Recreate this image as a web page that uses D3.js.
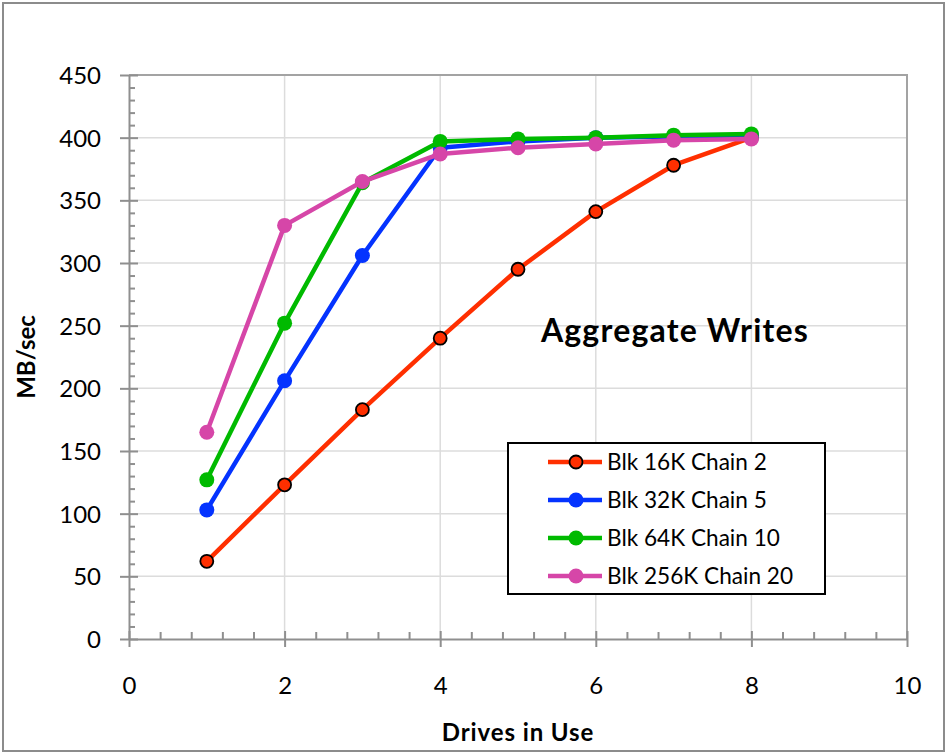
<!DOCTYPE html>
<html>
<head>
<meta charset="utf-8">
<script src="https://cdn.jsdelivr.net/npm/d3@7"></script>
<style>
  html, body { margin: 0; padding: 0; background: #fff; }
  svg { display: block; font-family: Lato, "Open Sans", sans-serif; }
</style>
</head>
<body>
<svg id="chart" width="947" height="753"></svg>
<script>
// Drive counts on the x axis
const drives = [1, 2, 3, 4, 5, 6, 7, 8];

// Aggregate write throughput (MB/sec) per configuration
const blk16kChain2 = [62, 123, 183, 240, 295, 341, 378, 400];
const blk32kChain5 = [103, 206, 306, 392, 397, 400, 401, 402];
const blk64kChain10 = [127, 252, 364, 397, 399, 400, 402, 403];
const blk256kChain20 = [165, 330, 365, 387, 392, 395, 398, 399];

const seriesNames = ["Blk 16K Chain 2", "Blk 32K Chain 5", "Blk 64K Chain 10", "Blk 256K Chain 20"];
const seriesColors = ["#ff2f00", "#0433ff", "#00ba00", "#d646a8"];

const xTicks = [0, 2, 4, 6, 8, 10];
const yTicks = [0, 50, 100, 150, 200, 250, 300, 350, 400, 450];

const series = [blk16kChain2, blk32kChain5, blk64kChain10, blk256kChain20].map((vals, i) => ({
  name: seriesNames[i],
  color: seriesColors[i],
  outlined: i === 0,
  points: drives.map((d, j) => ({ x: d, y: vals[j] }))
}));

const svg = d3.select("#chart");
const margin = { left: 129, top: 75, right: 40, bottom: 114 };
const W = 947, H = 753;
const pw = W - margin.left - margin.right;   // 778
const ph = H - margin.top - margin.bottom;   // 564

const x = d3.scaleLinear().domain([0, 10]).range([0, pw]);
const y = d3.scaleLinear().domain([0, 450]).range([ph, 0]);

const axisGray = "#8f8f8f";
const gridGray = "#dcdcdc";

// outer chart frame
svg.append("rect")
  .attr("x", 3).attr("y", 3).attr("width", 941).attr("height", 748)
  .attr("fill", "#fff").attr("stroke", "#8c8c8c").attr("stroke-width", 2);

const g = svg.append("g").attr("transform", `translate(${margin.left},${margin.top})`);

// gridlines
g.append("g").selectAll("line").data(yTicks.filter(v => v > 0 && v < 450)).join("line")
  .attr("x1", 0).attr("x2", pw)
  .attr("y1", d => y(d)).attr("y2", d => y(d))
  .attr("stroke", gridGray).attr("stroke-width", 1.5);
g.append("g").selectAll("line").data(xTicks.filter(v => v > 0 && v < 10)).join("line")
  .attr("y1", 0).attr("y2", ph)
  .attr("x1", d => x(d)).attr("x2", d => x(d))
  .attr("stroke", gridGray).attr("stroke-width", 1.5);

// plot area top and right border
g.append("path")
  .attr("d", `M0,${y(450)}H${x(10)}V${y(0)}`)
  .attr("fill", "none").attr("stroke", "#a3a3a3").attr("stroke-width", 2);

// y axis: minor ticks inside, major ticks crossing
const yMinor = d3.range(0, 451, 10).filter(v => v % 50 !== 0);
g.append("g")
  .call(d3.axisRight(y).tickValues(yMinor).tickSize(6).tickFormat(""))
  .call(s => s.select(".domain").remove())
  .call(s => s.selectAll("line").attr("stroke", axisGray).attr("stroke-width", 2));

const yAxis = g.append("g")
  .call(d3.axisLeft(y).tickValues(yTicks).tickSize(9).tickSizeOuter(0));
yAxis.select(".domain").attr("stroke", axisGray).attr("stroke-width", 2);
yAxis.selectAll(".tick line").attr("x1", 9).attr("x2", -9)
  .attr("stroke", axisGray).attr("stroke-width", 2);
yAxis.selectAll(".tick text")
  .attr("x", -28).attr("dy", "0.36em")
  .attr("font-family", "Lato, sans-serif").attr("font-size", 24).attr("fill", "#000");

// x axis: minor ticks inside, major ticks crossing
const xMinor = d3.range(0, 51).map(v => v * 0.4).filter(v => v <= 10 && Math.abs(v / 2 - Math.round(v / 2)) > 1e-6);
g.append("g").attr("transform", `translate(0,${ph})`)
  .call(d3.axisTop(x).tickValues(xMinor).tickSize(7).tickFormat(""))
  .call(s => s.select(".domain").remove())
  .call(s => s.selectAll("line").attr("stroke", axisGray).attr("stroke-width", 2));

const xAxis = g.append("g").attr("transform", `translate(0,${ph})`)
  .call(d3.axisBottom(x).tickValues(xTicks).tickSize(8).tickSizeOuter(0));
xAxis.select(".domain").attr("stroke", axisGray).attr("stroke-width", 2);
xAxis.selectAll(".tick line").attr("y1", -8).attr("y2", 8)
  .attr("stroke", axisGray).attr("stroke-width", 2);
xAxis.selectAll(".tick text")
  .attr("y", 55).attr("dy", "0")
  .attr("font-family", "Lato, sans-serif").attr("font-size", 24).attr("fill", "#000");

// series lines and markers
const line = d3.line().x(d => x(d.x)).y(d => y(d.y));
series.forEach(s => {
  const sg = g.append("g");
  sg.append("path").datum(s.points)
    .attr("d", line).attr("fill", "none")
    .attr("stroke", s.color).attr("stroke-width", 4.5)
    .attr("stroke-linejoin", "round");
  sg.selectAll("circle").data(s.points).join("circle")
    .attr("cx", d => x(d.x)).attr("cy", d => y(d.y))
    .attr("r", s.outlined ? 6.5 : 7.5)
    .attr("fill", s.color)
    .attr("stroke", s.outlined ? "#000" : "none")
    .attr("stroke-width", s.outlined ? 1.8 : 0);
});

// chart annotation
svg.append("text")
  .attr("x", 675).attr("y", 342).attr("text-anchor", "middle")
  .attr("font-family", "Lato, sans-serif").attr("font-weight", "bold")
  .attr("font-size", 32).attr("letter-spacing", 1.2).attr("fill", "#000")
  .text("Aggregate Writes");

// axis titles
svg.append("text")
  .attr("x", margin.left + pw / 2).attr("y", 741).attr("text-anchor", "middle")
  .attr("font-family", "Lato, sans-serif").attr("font-weight", "bold")
  .attr("font-size", 24).attr("letter-spacing", 0.9).attr("fill", "#000")
  .text("Drives in Use");
svg.append("text")
  .attr("transform", `translate(35,${margin.top + ph / 2}) rotate(-90)`)
  .attr("text-anchor", "middle")
  .attr("font-family", "Lato, sans-serif").attr("font-weight", "bold")
  .attr("font-size", 24).attr("fill", "#000")
  .text("MB/sec");

// legend
const legend = svg.append("g");
legend.append("rect")
  .attr("x", 508).attr("y", 443).attr("width", 317).attr("height", 151)
  .attr("fill", "#fff").attr("stroke", "#000").attr("stroke-width", 2);
const rowY = d3.scalePoint().domain(seriesNames).range([462, 576]);
series.forEach(s => {
  const cy = rowY(s.name);
  legend.append("line")
    .attr("x1", 548).attr("x2", 602).attr("y1", cy).attr("y2", cy)
    .attr("stroke", s.color).attr("stroke-width", 4.5);
  legend.append("circle")
    .attr("cx", 576).attr("cy", cy).attr("r", s.outlined ? 6.5 : 7.5)
    .attr("fill", s.color)
    .attr("stroke", s.outlined ? "#000" : "none")
    .attr("stroke-width", s.outlined ? 1.8 : 0);
  legend.append("text")
    .attr("x", 607).attr("y", cy).attr("dy", "0.36em")
    .attr("font-family", "Lato, sans-serif").attr("font-size", 22.6).attr("fill", "#000")
    .text(s.name);
});
</script>
</body>
</html>
